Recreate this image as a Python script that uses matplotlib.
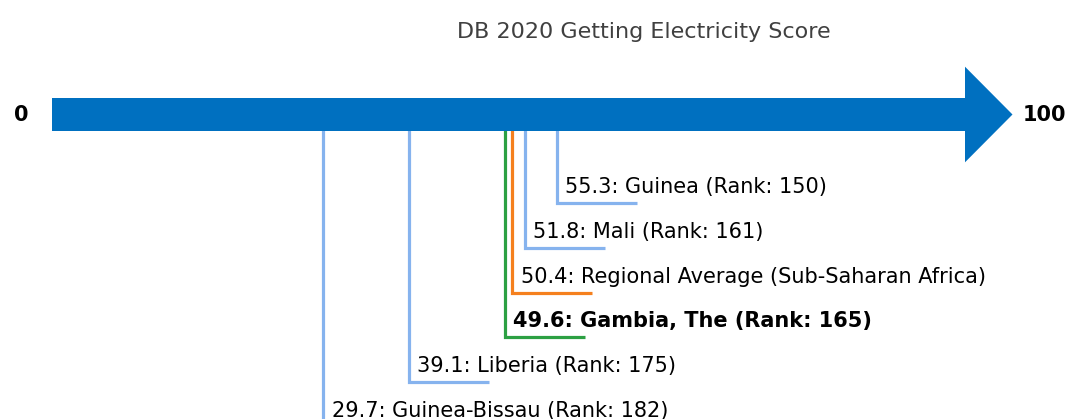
import matplotlib
matplotlib.use("Agg")
import matplotlib.pyplot as plt
from matplotlib.patches import Polygon

# ---- data ----
title = "DB 2020 Getting Electricity Score"
economies = ["Guinea", "Mali", "Regional Average (Sub-Saharan Africa)",
             "Gambia, The", "Liberia", "Guinea-Bissau"]
scores = [55.3, 51.8, 50.4, 49.6, 39.1, 29.7]
ranks = [150, 161, None, 165, 175, 182]
highlight = [False, False, False, True, False, False]
kinds = ["peer", "peer", "region", "focus", "peer", "peer"]
scale_min, scale_max = 0, 100

kind_colors = {"peer": "#86b3ee", "region": "#f5801e", "focus": "#2ca043"}
arrow_color = "#0070c0"

# ---- figure ----
W, H = 1072, 419
fig = plt.figure(figsize=(W / 100, H / 100), dpi=100)
ax = fig.add_axes([0, 0, 1, 1])
px_per_unit = (965 - 52) / (scale_max - scale_min)
ax.set_xlim(scale_min - 52 / px_per_unit, scale_min + (W - 52) / px_per_unit)
ax.set_ylim(H, 0)
ax.axis("off")

# arrow
yc = 114.5
shaft_half = 16.5
head_half = 47.8
head_len = 47.5 / px_per_unit
arrow = Polygon([
    (scale_min, yc - shaft_half), (scale_max, yc - shaft_half),
    (scale_max, yc - head_half), (scale_max + head_len, yc),
    (scale_max, yc + head_half), (scale_max, yc + shaft_half),
    (scale_min, yc + shaft_half)], closed=True,
    facecolor=arrow_color, edgecolor="none", zorder=3)
ax.add_patch(arrow)

ax.text(scale_min - 31 / px_per_unit, yc, str(scale_min), ha="center", va="center",
        fontsize=15, fontweight="bold", color="black")
ax.text(scale_max + head_len + 10 / px_per_unit, yc, str(scale_max), ha="left",
        va="center", fontsize=15, fontweight="bold", color="black")

ax.text(scale_min + (644 - 52) / px_per_unit, 32, title, ha="center", va="center",
        fontsize=16, color="#404040")

# leader lines and labels
first_level = 202.7
level_gap = 44.9
hlen = 80 / px_per_unit
order = sorted(range(len(scores)), key=lambda i: -scores[i])
for lvl, i in enumerate(order):
    s = scores[i]
    y = first_level + lvl * level_gap
    c = kind_colors[kinds[i]]
    ax.plot([s, s, s + hlen], [yc, y, y], color=c, lw=2.3, zorder=2,
            solid_joinstyle="miter", solid_capstyle="butt")
    lab = f"{s:.1f}: {economies[i]}"
    if ranks[i] is not None:
        lab += f" (Rank: {ranks[i]})"
    ax.text(s + 8.5 / px_per_unit, y - 10, lab, ha="left", va="baseline",
            fontsize=15, color="black",
            fontweight="bold" if highlight[i] else "normal")

fig.savefig("out.png", dpi=100)
